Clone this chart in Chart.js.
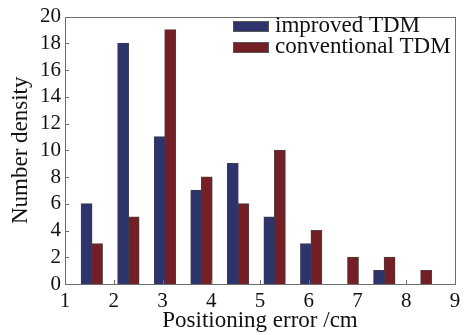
<!DOCTYPE html>
<html lang="en">
<head>
  <meta charset="UTF-8">
  <title>Positioning error histogram</title>
  <script src="https://cdn.jsdelivr.net/npm/chart.js"></script>
  <style>
    html, body { margin: 0; padding: 0; background: #fff; }
    #box { width: 472px; height: 335px; }
  </style>
</head>
<body>
  <div id="box"><canvas id="grafico"></canvas></div>
<script>
  // data
  const posicoes = [1.55, 2.3, 3.05, 3.8, 4.55, 5.3, 6.05, 6.8, 7.55, 8.3];
  const improvedTDM = [6, 18, 11, 7, 9, 5, 3, null, 1, null];
  const conventionalTDM = [3, 5, 19, 8, 6, 10, 4, 2, 2, 1];
  const ticksX = [1, 2, 3, 4, 5, 6, 7, 8, 9];
  const ticksY = [0, 2, 4, 6, 8, 10, 12, 14, 16, 18, 20];
  const nomesSeries = ['improved TDM', 'conventional TDM'];

  const fonte = '"Liberation Serif", "DejaVu Serif", serif';
  const corFrame = '#6e6e6e';

  function pontos(valores) {
    return posicoes.map(function (x, i) { return { x: x, y: valores[i] }; });
  }

  // frame, inward ticks and legend drawn inside the axes box
  const moldura = {
    id: 'moldura',
    afterDraw(chart) {
      const ctx = chart.ctx;
      const a = chart.chartArea;
      const sx = chart.scales.x, sy = chart.scales.y;
      ctx.save();
      ctx.strokeStyle = corFrame;
      ctx.lineWidth = 1;
      ctx.strokeRect(Math.round(a.left) + 0.5, Math.round(a.top) + 0.5,
        Math.round(a.right - a.left), Math.round(a.bottom - a.top));
      ctx.beginPath();
      ticksX.forEach(function (v) {
        const px = Math.round(sx.getPixelForValue(v)) + 0.5;
        ctx.moveTo(px, a.bottom); ctx.lineTo(px, a.bottom - 4);
      });
      ticksY.forEach(function (v) {
        const py = Math.round(sy.getPixelForValue(v)) + 0.5;
        ctx.moveTo(a.left, py); ctx.lineTo(a.left + 4, py);
      });
      ctx.stroke();

      // legend
      ctx.font = '23px ' + fonte;
      ctx.textBaseline = 'middle';
      chart.data.datasets.forEach(function (ds, i) {
        const y = 21 + i * 21;
        ctx.fillStyle = ds.backgroundColor;
        ctx.fillRect(233, y, 36, 11);
        ctx.strokeStyle = '#555';
        ctx.strokeRect(233.5, y + 0.5, 35, 10);
        ctx.fillStyle = '#111';
        ctx.fillText(ds.label, 275, y + 5);
      });
      ctx.restore();
    }
  };

  const ctx = document.getElementById('grafico').getContext('2d');

  new Chart(ctx, {
    type: 'bar',
    data: {
      datasets: [{
        label: nomesSeries[0],
        data: pontos(improvedTDM),
        backgroundColor: '#2d346c',
        borderColor: '#3c3c50',
        borderWidth: 1,
        inflateAmount: 0.6
      }, {
        label: nomesSeries[1],
        data: pontos(conventionalTDM),
        backgroundColor: '#731f25',
        borderColor: '#503c3c',
        borderWidth: 1,
        inflateAmount: 0.6
      }]
    },
    options: {
      responsive: true,
      maintainAspectRatio: false,
      animation: false,
      categoryPercentage: 0.575,
      barPercentage: 1,
      layout: { padding: { top: 8, right: 17, left: 0, bottom: 0 } },
      plugins: {
        legend: { display: false },
        tooltip: { enabled: false }
      },
      scales: {
        x: {
          type: 'linear',
          min: 1,
          max: 9,
          offset: false,
          afterBuildTicks(scale) {
            scale.ticks = ticksX.map(function (v) { return { value: v }; });
          },
          afterFit(scale) { scale.height = 51; },
          grid: { display: false, drawTicks: false, offset: false },
          border: { display: false },
          ticks: {
            padding: 5,
            autoSkip: false,
            color: '#111',
            font: { family: fonte, size: 21 },
            maxRotation: 0
          },
          title: {
            display: true,
            text: 'Positioning error /cm',
            color: '#111',
            font: { family: fonte, size: 23 },
            padding: { top: 0, bottom: 0 }
          }
        },
        y: {
          min: 0,
          max: 20,
          afterBuildTicks(scale) {
            scale.ticks = ticksY.map(function (v) { return { value: v }; });
          },
          afterFit(scale) { scale.width = 65; },
          grid: { display: false, drawTicks: false },
          border: { display: false },
          ticks: {
            padding: 4,
            autoSkip: false,
            color: '#111',
            font: { family: fonte, size: 21 }
          },
          title: {
            display: true,
            text: 'Number density',
            color: '#111',
            font: { family: fonte, size: 23 },
            padding: { top: 7, bottom: 0 }
          }
        }
      }
    },
    plugins: [moldura]
  });
</script>
</body>
</html>
